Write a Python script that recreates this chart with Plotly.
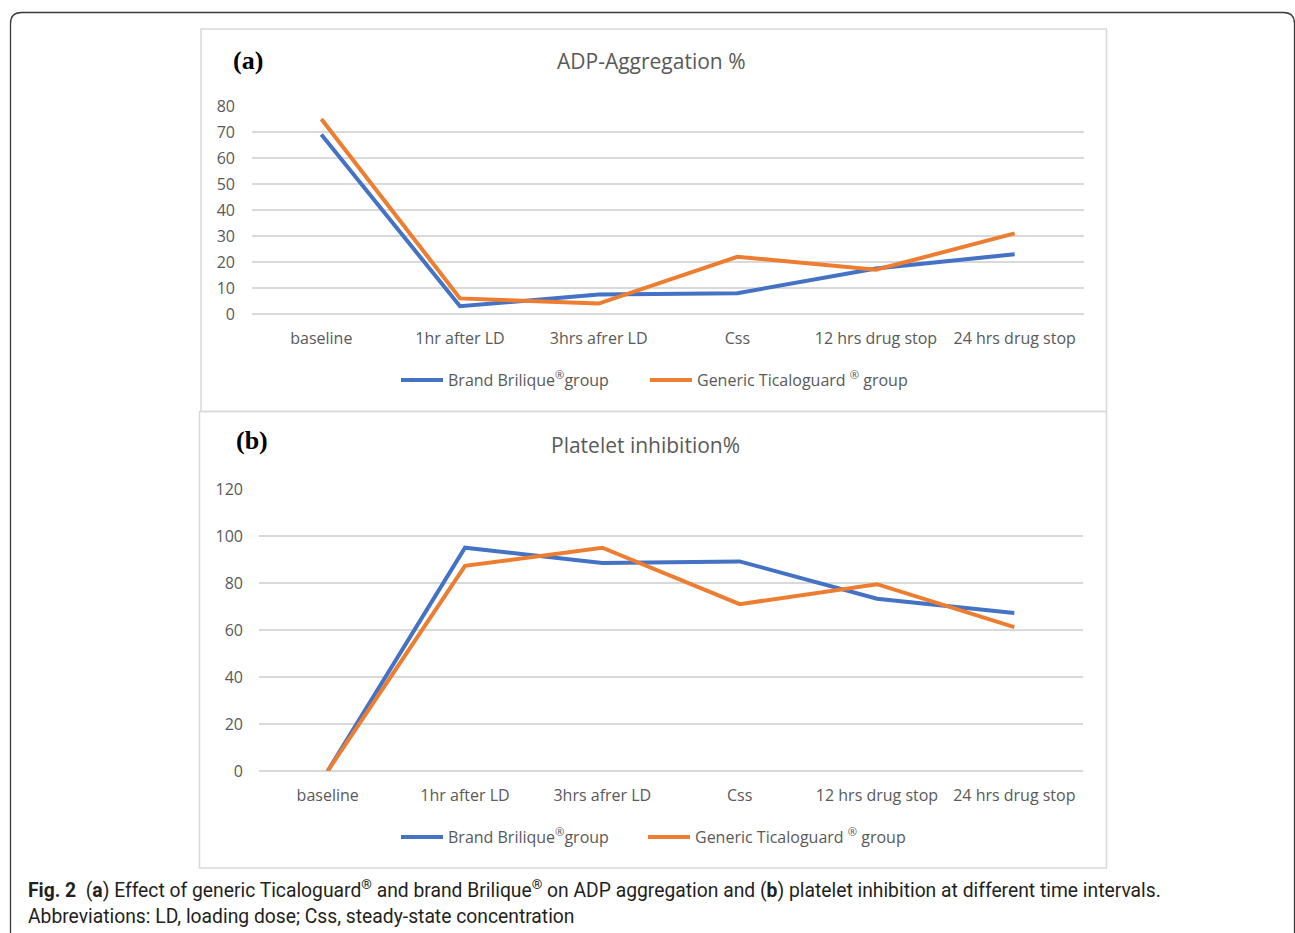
import plotly.graph_objects as go

# ---------------- data ----------------
categories = ["baseline", "1hr after LD", "3hrs afrer LD", "Css", "12 hrs drug stop", "24 hrs drug stop"]
adp_brand = [69, 3, 7.5, 8, 17.5, 23]
adp_generic = [75, 6, 4, 22, 17, 31]
pi_brand = [0, 95, 88.5, 89.2, 73.3, 67.2]
pi_generic = [0, 87.3, 95, 71, 79.5, 61.2]
series_names = ["Brand Brilique<sup>®</sup>group", "Generic Ticaloguard <sup>®</sup> group"]
adp_ticks = [0, 10, 20, 30, 40, 50, 60, 70, 80]
pi_ticks = [0, 20, 40, 60, 80, 100, 120]

W, H = 1295, 933
BLUE, ORANGE = "#4472C4", "#ED7D31"
GRID = "#d9d9d9"
TXT = "#595959"
FONT = "Open Sans, Noto Sans, sans-serif"
CAPFONT = "Roboto, Noto Sans, sans-serif"


def X(px):
    return px / W


def Y(py):
    return 1 - py / H


fig = go.Figure()

fig.add_trace(go.Scatter(x=categories, y=adp_brand, name=series_names[0], mode="lines",
                         line=dict(color=BLUE, width=4), xaxis="x", yaxis="y", legend="legend"))
fig.add_trace(go.Scatter(x=categories, y=adp_generic, name=series_names[1], mode="lines",
                         line=dict(color=ORANGE, width=4), xaxis="x", yaxis="y", legend="legend3"))
fig.add_trace(go.Scatter(x=categories, y=pi_brand, name=series_names[0], mode="lines",
                         line=dict(color=BLUE, width=4), xaxis="x2", yaxis="y2", legend="legend2"))
fig.add_trace(go.Scatter(x=categories, y=pi_generic, name=series_names[1], mode="lines",
                         line=dict(color=ORANGE, width=4), xaxis="x2", yaxis="y2", legend="legend4"))

xcommon = dict(type="category", range=[-0.5, 5.5], showgrid=False, showline=False, zeroline=False,
               ticks="", tickfont=dict(family=FONT, size=16, color=TXT), ticklabelstandoff=13,
               fixedrange=True, automargin=False)
ycommon = dict(showgrid=True, gridcolor=GRID, gridwidth=1.5, showline=False, zeroline=True,
               zerolinecolor=GRID, zerolinewidth=1.5, ticks="",
               tickfont=dict(family=FONT, size=16, color=TXT), fixedrange=True, automargin=False)

legcommon = dict(orientation="h", font=dict(family=FONT, size=16, color=TXT), bgcolor="rgba(0,0,0,0)",
                 itemwidth=42, xanchor="left", yanchor="middle")

fig.update_layout(
    width=W, height=H,
    margin=dict(l=0, r=0, t=0, b=0, pad=0, autoexpand=False),
    paper_bgcolor="white", plot_bgcolor="white",
    showlegend=True,
    xaxis=dict(domain=[X(252), X(1084)], anchor="y", **xcommon),
    yaxis=dict(domain=[Y(314), Y(106)], anchor="x", range=[0, 80], tickvals=adp_ticks,
               ticklabelstandoff=16, **ycommon),
    xaxis2=dict(domain=[X(259), X(1083)], anchor="y2", **xcommon),
    yaxis2=dict(domain=[Y(771), Y(489)], anchor="x2", range=[0, 120], tickvals=pi_ticks,
                ticklabelstandoff=15, **ycommon),
    legend=dict(x=X(396), y=Y(380), **legcommon),
    legend3=dict(x=X(645), y=Y(380), **legcommon),
    legend2=dict(x=X(396), y=Y(837), **legcommon),
    legend4=dict(x=X(643), y=Y(837), **legcommon),
)

# panel borders and outer rounded frame
fig.add_shape(type="rect", xref="paper", yref="paper", x0=X(201), x1=X(1106.5), y0=Y(411.5), y1=Y(29),
              line=dict(color=GRID, width=1.5), layer="below")
fig.add_shape(type="rect", xref="paper", yref="paper", x0=X(199.5), x1=X(1106.5), y0=Y(868), y1=Y(411.5),
              line=dict(color=GRID, width=1.5), layer="below")
r = 11
x0, x1, y0 = 10.5, 1294.5, 12.5
path = (f"M {X(x0)},{Y(H + 5)} L {X(x0)},{Y(y0 + r)} "
        f"Q {X(x0)},{Y(y0)} {X(x0 + r)},{Y(y0)} "
        f"L {X(x1 - r)},{Y(y0)} Q {X(x1)},{Y(y0)} {X(x1)},{Y(y0 + r)} L {X(x1)},{Y(H + 5)}")
fig.add_shape(type="path", xref="paper", yref="paper", path=path, line=dict(color="#3a3a3a", width=1.3))

ann = [
    dict(text="ADP-Aggregation %", x=X(651), y=Y(61), font=dict(family=FONT, size=21, color=TXT),
         xanchor="center", yanchor="middle"),
    dict(text="Platelet inhibition%", x=X(645), y=Y(445), font=dict(family=FONT, size=21, color=TXT),
         xanchor="center", yanchor="middle"),
    dict(text="<b>(a)</b>", x=X(231), y=Y(60), font=dict(family="Liberation Serif, serif", size=26, color="black"),
         xanchor="left", yanchor="middle"),
    dict(text="<b>(b)</b>", x=X(234), y=Y(441), font=dict(family="Liberation Serif, serif", size=26, color="black"),
         xanchor="left", yanchor="middle"),
    dict(text="<b>Fig. 2</b>  (<b>a</b>) Effect of generic Ticaloguard<sup>®</sup> and brand Brilique<sup>®</sup> "
              "on ADP aggregation and (<b>b</b>) platelet inhibition at different time intervals.",
         x=X(26), y=Y(889), font=dict(family=CAPFONT, size=19.3, color="#231f20"),
         xanchor="left", yanchor="middle"),
    dict(text="Abbreviations: LD, loading dose; Css, steady-state concentration",
         x=X(26), y=Y(916), font=dict(family=CAPFONT, size=19.3, color="#231f20"),
         xanchor="left", yanchor="middle"),
]
for a in ann:
    fig.add_annotation(xref="paper", yref="paper", showarrow=False, **a)

fig.write_html("out.html", config={"displayModeBar": False},
               post_script="document.body.style.margin='0';document.body.style.overflow='hidden';")
